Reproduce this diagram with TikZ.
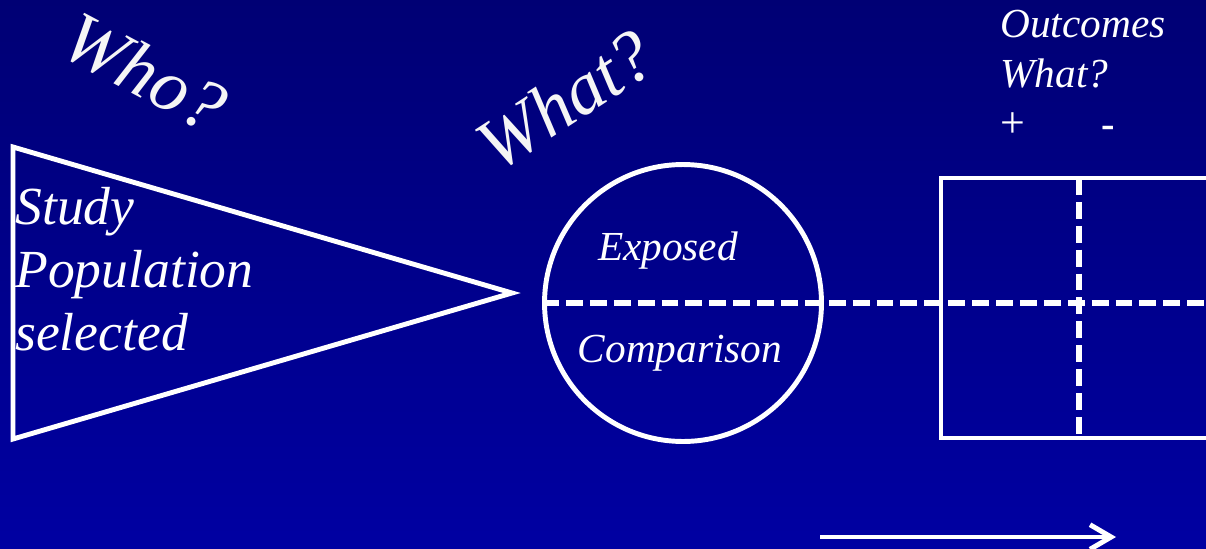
\documentclass[tikz,border=0pt]{standalone}
\usepackage{fontspec}
\setmainfont{Liberation Serif}
\usetikzlibrary{arrows.meta, positioning, shapes.geometric}

\definecolor{bgtop}{RGB}{0,0,116}
\definecolor{bgbot}{RGB}{0,0,162}

\begin{document}
\begin{tikzpicture}[x=0.02cm, y=-0.02cm,
    outline/.style={draw=white, line width=2.8pt, line join=miter},
    divider/.style={draw=white, line width=3.4pt, dash pattern=on 9.6pt off 4pt},
    txt/.style={text=white, font=\itshape\fontsize{23.5}{27}\selectfont, inner sep=0pt},
    bigtext/.style={text=white, font=\itshape\fontsize{30.5}{35.7}\selectfont,
      inner sep=0pt, align=left},
    question/.style={text=gray!8, font=\itshape\fontsize{42}{46}\selectfont, inner sep=0pt},
    arrow/.style={-{Straight Barb[length=12pt,width=14pt]}, white, line width=2.8pt}
  ]
  \clip (0,0) rectangle (1206,548);
  \shade[top color=bgtop, bottom color=bgbot] (0,0) rectangle (1206,548);

  \node[question, rotate=-28] (who) at (145,72) {Who?};
  \node[question, rotate=33] (what) at (565,100) {What?};

  \draw[outline] (13,147) -- (512,293) -- (13,439) -- cycle;
  \node[bigtext, anchor=base west] (pop) at (15,350) {Study\\Population\\selected};

  \node[circle, outline, minimum size=5.54cm] (grp) at (683,303) {};
  \node[txt, anchor=base] (exp) at (668,260) {Exposed};
  \node[txt, anchor=base] (cmp) at (680,362) {Comparison};

  \coordinate (tblTR) at (1215,178);
  \coordinate (tblBL) at (941,438);
  \coordinate (tblBR) at (1215,438);
  \draw[outline] (tblTR) -| (tblBL) -- (tblBR);
  \coordinate (colT) at (1079,178);
  \coordinate (colB) at (1079,438);
  \coordinate (rowR) at (1206,303);
  \draw[divider] (grp.west) -- (rowR);
  \draw[divider] (colT) -- (colB);

  \node[txt, anchor=base west] (out) at (1000,37) {Outcomes};
  \node[txt, anchor=base west] (whatout) at (1000,87) {What?};
  \node[txt, anchor=base, font=\fontsize{25}{27}\selectfont] (pos) at (1013,137) {+};
  \node[txt, anchor=base, font=\bfseries\fontsize{23}{27}\selectfont] (neg) at (1108,137) {-};

  \coordinate (tA) at (820,537);
  \coordinate (tB) at (1116,537);
  \draw[arrow] (tA) -- (tB);
\end{tikzpicture}
\end{document}
